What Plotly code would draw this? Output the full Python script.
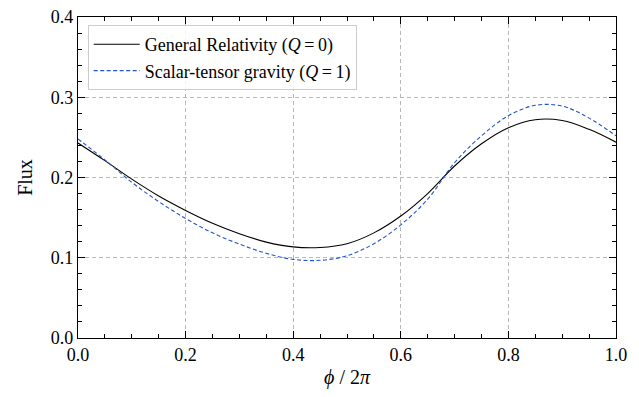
import plotly.graph_objects as go

phase = [0.00, 0.05, 0.10, 0.15, 0.20, 0.25, 0.30, 0.35, 0.40, 0.45, 0.50,
         0.55, 0.60, 0.65, 0.70, 0.75, 0.80, 0.85, 0.90, 0.95, 1.00]
flux_gr = [0.243, 0.221, 0.198, 0.177, 0.159, 0.143, 0.130, 0.1195, 0.1135, 0.1128, 0.1175,
           0.131, 0.152, 0.180, 0.2143, 0.242, 0.262, 0.272, 0.271, 0.260, 0.244]
flux_st = [0.248, 0.222, 0.194, 0.170, 0.149, 0.131, 0.117, 0.1055, 0.098, 0.0968, 0.1025,
           0.1175, 0.141, 0.173, 0.2185, 0.252, 0.277, 0.290, 0.289, 0.274, 0.252]
names = ["General Relativity (<i>Q</i>\u2009=\u20090)", "Scalar-tensor gravity (<i>Q</i>\u2009=\u20091)"]

FONT = "Liberation Serif, Times New Roman, serif"

fig = go.Figure()
fig.add_trace(go.Scatter(x=phase, y=flux_gr, mode="lines", name=names[0],
                         line=dict(color="black", width=1.1, shape="spline")))
fig.add_trace(go.Scatter(x=phase, y=flux_st, mode="lines", name=names[1],
                         line=dict(color="#2255c8", width=1.1, dash="4px,2.5px", shape="spline")))

axis_common = dict(
    showline=True, linecolor="black", linewidth=1.2, mirror="allticks",
    ticks="inside", ticklen=7, tickwidth=1, tickcolor="black",
    showgrid=True, gridcolor="#b8b8b8", griddash="4px,3px", gridwidth=1,
    zeroline=False, automargin=False,
    tickfont=dict(family=FONT, size=18, color="black"),
)

fig.update_xaxes(range=[0, 1], dtick=0.2, tickformat=".1f",
                 minor=dict(dtick=0.05, ticks="inside", ticklen=4, tickcolor="black", showgrid=False),
                 title=dict(text="<i>ϕ</i> / 2<i>π</i>", font=dict(family=FONT, size=20, color="black"), standoff=6),
                 **axis_common)
fig.update_yaxes(range=[0, 0.4], dtick=0.1, tickformat=".1f",
                 minor=dict(dtick=0.02, ticks="inside", ticklen=4, tickcolor="black", showgrid=False),
                 title=dict(text="Flux", font=dict(family=FONT, size=20, color="black"), standoff=12),
                 **axis_common)

fig.update_layout(
    width=639, height=397,
    margin=dict(l=78, r=23, t=17, b=59, autoexpand=False),
    paper_bgcolor="white", plot_bgcolor="white",
    font=dict(family=FONT, size=16, color="black"),
    showlegend=True,
    legend=dict(x=0.018, y=0.975, xanchor="left", yanchor="top",
                bgcolor="rgba(255,255,255,0.85)", bordercolor="#cccccc", borderwidth=1,
                font=dict(family=FONT, size=18, color="black"),
                itemwidth=46, tracegroupgap=0),
)

fig.write_html("out.html", config={"displayModeBar": False},
               post_script="document.body.style.margin='0';document.body.style.overflow='hidden';")
